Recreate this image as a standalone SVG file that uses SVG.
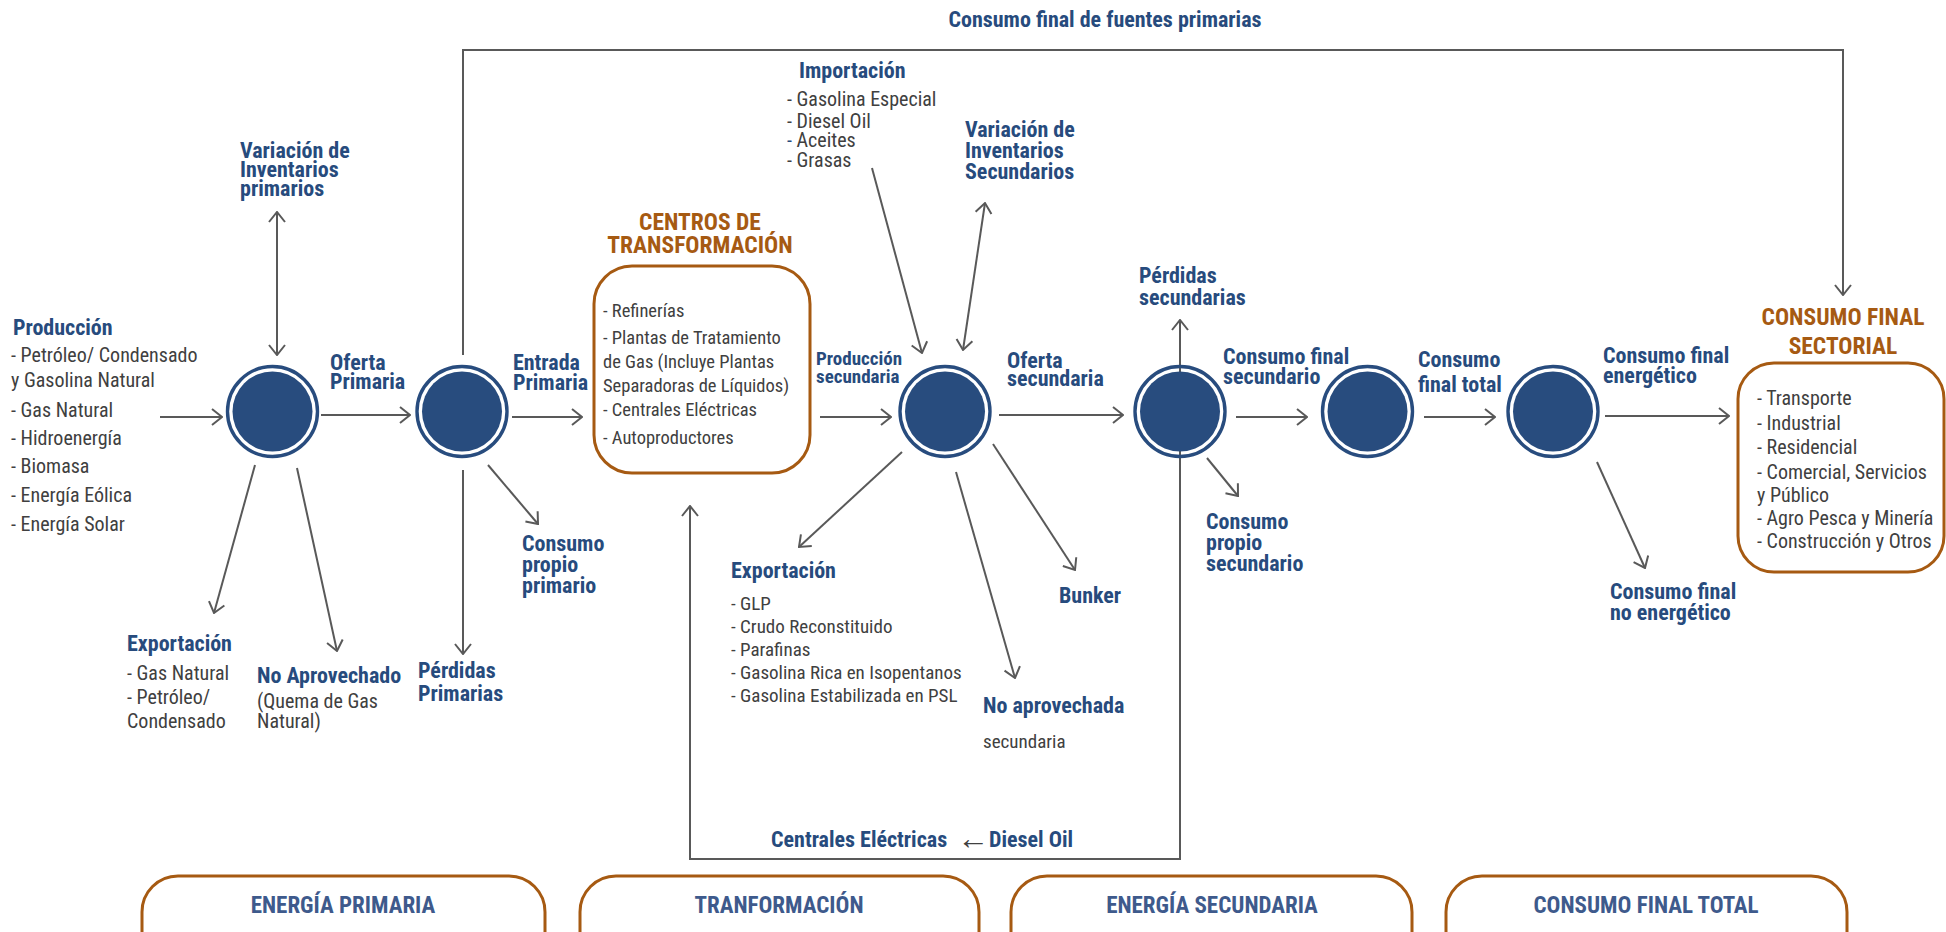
<svg xmlns="http://www.w3.org/2000/svg" width="1946" height="932" viewBox="0 0 1946 932">
<defs>
<marker id="ah" viewBox="0 0 12 18" refX="11" refY="9" markerWidth="12" markerHeight="18" markerUnits="userSpaceOnUse" orient="auto-start-reverse">
<path d="M1,1 L11,9 L1,17" fill="none" stroke="#595959" stroke-width="2"/>
</marker>
<style>
text{font-family:"Roboto Condensed","Liberation Sans Narrow",Roboto,sans-serif}
.b{font-weight:bold;fill:#274B7D;font-size:22px}
.bs{font-weight:bold;fill:#274B7D;font-size:19px}
.r{fill:#404040;font-size:20px}
.r19{fill:#404040;font-size:19px}
.r18{fill:#404040;font-size:18.5px}
.h{font-weight:bold;fill:#A65A12;font-size:23.5px;text-anchor:middle}
.f{font-weight:bold;fill:#3E5A8C;font-size:23px;text-anchor:middle}
.c{fill:none;stroke:#595959;stroke-width:2;marker-end:url(#ah)}
.c2{marker-start:url(#ah)}
.ring{fill:none;stroke:#284C7E;stroke-width:3.4}
.core{fill:#284C7E}
.box{fill:none;stroke:#A65A12;stroke-width:3}
</style>
</defs>
<g id="connectors">
<path class="c" d="M463,355 L463,50 L1843,50 L1843,295" stroke-width="2.5"/>
<path class="c" d="M160,417 L222,417"/>
<path class="c" d="M321,415 L410,415" stroke-width="3"/>
<path class="c" d="M512,417 L582,417"/>
<path class="c c2" d="M277,212 L277,355"/>
<path class="c" d="M255,465 L214,613"/>
<path class="c" d="M297,468 L337,651"/>
<path class="c" d="M463,470 L463,654"/>
<path class="c" d="M488,465 L538,524"/>
<path class="c" d="M820,417 L891,417"/>
<path class="c" d="M872,168 L922,353"/>
<path class="c c2" d="M985,203 L963,350"/>
<path class="c" d="M999,415 L1123,415" stroke-width="2.5"/>
<path class="c" d="M902,452 L799,547"/>
<path class="c" d="M956,472 L1015,678"/>
<path class="c" d="M993,444 L1075,570"/>
<path class="c c2" d="M1180,320 L1180,859 L690,859 L690,506" stroke-width="2.5"/>
<path class="c" d="M1207,458 L1238,496"/>
<path class="c" d="M1236,417 L1307,417"/>
<path class="c" d="M1424,417 L1495,417"/>
<path class="c" d="M1605,416 L1729,416"/>
<path class="c" d="M1597,462 L1645,568"/>
</g>
<text class="b" x="1105" y="27" text-anchor="middle">Consumo final de fuentes primarias</text>
<g id="n1"><circle class="ring" cx="272.5" cy="411.5" r="45"/><circle class="core" cx="272.5" cy="411.5" r="40"/></g>
<g id="n2"><circle class="ring" cx="462" cy="411.5" r="45"/><circle class="core" cx="462" cy="411.5" r="40"/></g>
<g id="n3"><circle class="ring" cx="945" cy="411.5" r="45"/><circle class="core" cx="945" cy="411.5" r="40"/></g>
<g id="n4"><circle class="ring" cx="1180" cy="411.5" r="45"/><circle class="core" cx="1180" cy="411.5" r="40"/></g>
<g id="n5"><circle class="ring" cx="1367.5" cy="411.5" r="45"/><circle class="core" cx="1367.5" cy="411.5" r="40"/></g>
<g id="n6"><circle class="ring" cx="1553" cy="411.5" r="45"/><circle class="core" cx="1553" cy="411.5" r="40"/></g>
<g id="produccion">
<text class="b" x="13" y="335">Producción</text>
<text class="r" x="11" y="362">- Petróleo/ Condensado</text>
<text class="r" x="11" y="387">y Gasolina Natural</text>
<text class="r" x="11" y="417">- Gas Natural</text>
<text class="r" x="11" y="445">- Hidroenergía</text>
<text class="r" x="11" y="473">- Biomasa</text>
<text class="r" x="11" y="502">- Energía Eólica</text>
<text class="r" x="11" y="531">- Energía Solar</text>
</g>
<g id="var-prim"><text class="b" x="240" y="158">Variación de</text><text class="b" x="240" y="177">Inventarios</text><text class="b" x="240" y="196">primarios</text></g>
<g id="oferta-prim"><text class="b" x="330" y="370">Oferta</text><text class="b" x="330" y="389">Primaria</text></g>
<g id="entrada-prim"><text class="b" x="513" y="370">Entrada</text><text class="b" x="513" y="390">Primaria</text></g>
<g id="export-prim">
<text class="b" x="127" y="651">Exportación</text>
<text class="r" x="127" y="680">- Gas Natural</text>
<text class="r" x="127" y="704">- Petróleo/</text>
<text class="r" x="127" y="728">Condensado</text>
</g>
<g id="no-aprov"><text class="b" x="257" y="683">No Aprovechado</text><text class="r" x="257" y="708">(Quema de Gas</text><text class="r" x="257" y="728">Natural)</text></g>
<g id="perd-prim"><text class="b" x="418" y="678">Pérdidas</text><text class="b" x="418" y="701">Primarias</text></g>
<g id="cons-prop-prim"><text class="b" x="522" y="551">Consumo</text><text class="b" x="522" y="572">propio</text><text class="b" x="522" y="593">primario</text></g>
<g id="centros">
<text class="h" x="700" y="230">CENTROS DE</text>
<text class="h" x="700" y="253">TRANSFORMACIÓN</text>
<rect class="box" x="594" y="266" width="216" height="207" rx="38"/>
<text class="r18" x="603" y="317">- Refinerías</text>
<text class="r18" x="603" y="344">- Plantas de Tratamiento</text>
<text class="r18" x="603" y="368">de Gas (Incluye Plantas</text>
<text class="r18" x="603" y="392">Separadoras de Líquidos)</text>
<text class="r18" x="603" y="416">- Centrales Eléctricas</text>
<text class="r18" x="603" y="444">- Autoproductores</text>
</g>
<g id="prod-sec"><text class="bs" x="816" y="365">Producción</text><text class="bs" x="816" y="383">secundaria</text></g>
<g id="importacion">
<text class="b" x="799" y="78">Importación</text>
<text class="r" x="787" y="106">- Gasolina Especial</text>
<text class="r" x="787" y="128">- Diesel Oil</text>
<text class="r" x="787" y="147"><tspan fill="#274B7D">-</tspan> Aceites</text>
<text class="r" x="787" y="167">- Grasas</text>
</g>
<g id="var-sec"><text class="b" x="965" y="137">Variación de</text><text class="b" x="965" y="158">Inventarios</text><text class="b" x="965" y="179">Secundarios</text></g>
<g id="oferta-sec"><text class="b" x="1007" y="368">Oferta</text><text class="b" x="1007" y="386">secundaria</text></g>
<g id="export-sec">
<text class="b" x="731" y="578">Exportación</text>
<text class="r19" x="731" y="610">- GLP</text>
<text class="r19" x="731" y="633">- Crudo Reconstituido</text>
<text class="r19" x="731" y="656">- Parafinas</text>
<text class="r19" x="731" y="679">- Gasolina Rica en Isopentanos</text>
<text class="r19" x="731" y="702">- Gasolina Estabilizada en PSL</text>
</g>
<g id="bunker"><text class="b" x="1059" y="603">Bunker</text></g>
<g id="no-aprov-sec"><text class="b" x="983" y="713">No aprovechada</text><text class="r19" x="983" y="748">secundaria</text></g>
<g id="perd-sec"><text class="b" x="1139" y="283">Pérdidas</text><text class="b" x="1139" y="305">secundarias</text></g>
<g id="cf-sec"><text class="b" x="1223" y="364">Consumo final</text><text class="b" x="1223" y="384">secundario</text></g>
<g id="cons-prop-sec"><text class="b" x="1206" y="529">Consumo</text><text class="b" x="1206" y="550">propio</text><text class="b" x="1206" y="571">secundario</text></g>
<g id="cf-total"><text class="b" x="1418" y="367">Consumo</text><text class="b" x="1418" y="392">final total</text></g>
<g id="cf-energ"><text class="b" x="1603" y="363">Consumo final</text><text class="b" x="1603" y="383">energético</text></g>
<g id="cf-noenerg"><text class="b" x="1610" y="599">Consumo final</text><text class="b" x="1610" y="620">no energético</text></g>
<g id="cf-sectorial">
<text class="h" x="1843" y="325">CONSUMO FINAL</text>
<text class="h" x="1843" y="354">SECTORIAL</text>
<rect class="box" x="1738" y="363" width="206" height="209" rx="36"/>
<text class="r" x="1757" y="405">- Transporte</text>
<text class="r" x="1757" y="430">- Industrial</text>
<text class="r" x="1757" y="454">- Residencial</text>
<text class="r" x="1757" y="479">- Comercial, Servicios</text>
<text class="r" x="1757" y="502">y Público</text>
<text class="r" x="1757" y="525">- Agro Pesca y Minería</text>
<text class="r" x="1757" y="548">- Construcción y Otros</text>
</g>
<g id="centrales"><text class="b" x="771" y="847">Centrales Eléctricas</text><text x="957" y="849" font-size="32px" fill="#404040">←</text><text class="b" x="989" y="847">Diesel Oil</text></g>
<g id="fase-primaria"><rect class="box" x="142" y="876" width="403" height="100" rx="36"/><text class="f" x="343" y="913">ENERGÍA PRIMARIA</text></g>
<g id="fase-transf"><rect class="box" x="580" y="876" width="399" height="100" rx="36"/><text class="f" x="779" y="913">TRANFORMACIÓN</text></g>
<g id="fase-sec"><rect class="box" x="1011" y="876" width="401" height="100" rx="36"/><text class="f" x="1212" y="913">ENERGÍA SECUNDARIA</text></g>
<g id="fase-cf"><rect class="box" x="1446" y="876" width="401" height="100" rx="36"/><text class="f" x="1646" y="913">CONSUMO FINAL TOTAL</text></g>
</svg>
